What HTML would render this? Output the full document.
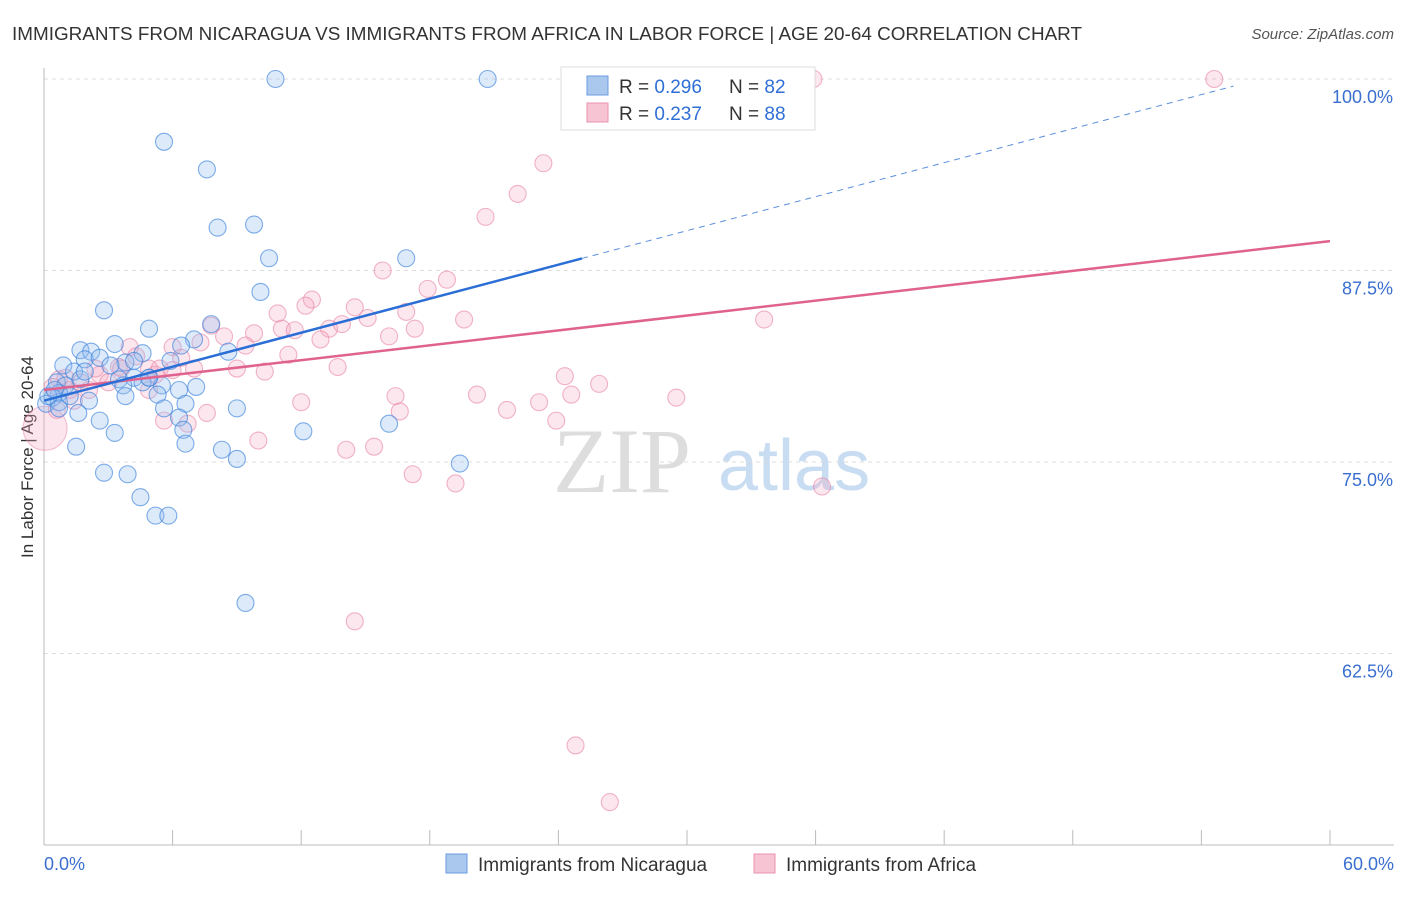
<!DOCTYPE html>
<html><head><meta charset="utf-8"><style>
body{margin:0;background:#fff;font-family:"Liberation Sans",sans-serif}
</style></head><body>
<svg id="chart" width="1406" height="892" xmlns="http://www.w3.org/2000/svg" font-family="Liberation Sans, sans-serif">
<text x="12" y="40" font-size="18" fill="#333" textLength="1070" lengthAdjust="spacingAndGlyphs">IMMIGRANTS FROM NICARAGUA VS IMMIGRANTS FROM AFRICA IN LABOR FORCE | AGE 20-64 CORRELATION CHART</text>
<text x="1394" y="39" font-size="15" fill="#555" font-style="italic" text-anchor="end">Source: ZipAtlas.com</text>
<text transform="translate(33,457) rotate(-90)" font-size="17" fill="#333" text-anchor="middle">In Labor Force | Age 20-64</text>
<g><text x="553" y="492" font-size="92" fill="#ddd" font-family="Liberation Serif, serif">ZIP</text><text x="718" y="490" font-size="72" fill="#c8dcf2">atlas</text></g>
<g id="grid"></g><g id="axes"></g><g id="pts"></g><g id="trend"></g>
<g>
<rect x="561" y="67" width="254" height="63" fill="#fff" stroke="#ddd"/>
<rect x="587" y="76" width="21" height="19" fill="#aac8ee" stroke="#6a9be0"/>
<rect x="587" y="103" width="21" height="19" fill="#f7c4d3" stroke="#e992ae"/>
<text x="619" y="93" font-size="19" fill="#333">R = <tspan fill="#2f6fd6">0.296</tspan></text>
<text x="729" y="93" font-size="19" fill="#333">N = <tspan fill="#2f6fd6">82</tspan></text>
<text x="619" y="120" font-size="19" fill="#333">R = <tspan fill="#2f6fd6">0.237</tspan></text>
<text x="729" y="120" font-size="19" fill="#333">N = <tspan fill="#2f6fd6">88</tspan></text>
</g>
<g>
<rect x="446" y="854" width="21" height="19" fill="#aac8ee" stroke="#6a9be0"/>
<text x="478" y="871" font-size="19" fill="#333">Immigrants from Nicaragua</text>
<rect x="754" y="854" width="21" height="19" fill="#f7c4d3" stroke="#e992ae"/>
<text x="786" y="871" font-size="19" fill="#333">Immigrants from Africa</text>
</g>
</svg>
<script>
const yTicks=[100,87.5,75,62.5];
const yTickLabels=["100.0%","87.5%","75.0%","62.5%"];
const xTicks=[0,6,12,18,24,30,36,42,48,54,60];
const xEndLabels=["0.0%","60.0%"];
const nicaragua=[[10.8,100],[20.7,100],[5.6,95.9],[7.6,94.1],[8.1,90.3],[9.8,90.5],[10.5,88.3],[16.9,88.3],[10.1,86.1],[2.8,84.9],[7.8,84.0],[4.9,83.7],[7.0,83.0],[6.4,82.6],[3.3,82.7],[1.7,82.3],[2.2,82.2],[8.6,82.2],[4.6,82.1],[0.9,81.3],[1.9,81.7],[2.6,81.8],[3.8,81.5],[4.2,81.6],[5.9,81.6],[1.4,80.9],[0.6,80.2],[1.0,80.0],[1.7,80.4],[3.5,80.4],[4.2,80.5],[4.9,80.5],[3.7,80.0],[5.5,80.0],[7.1,79.9],[6.3,79.7],[0.7,79.5],[0.4,79.2],[0.1,78.8],[0.7,78.9],[2.1,79.0],[3.8,79.3],[5.3,79.4],[6.6,78.8],[5.6,78.5],[9.0,78.5],[1.6,78.2],[0.7,78.5],[2.6,77.7],[6.3,77.9],[16.1,77.5],[12.1,77.0],[3.3,76.9],[6.5,77.1],[1.5,76.0],[6.6,76.2],[8.3,75.8],[9.0,75.2],[19.4,74.9],[2.8,74.3],[3.9,74.2],[4.5,72.7],[5.2,71.5],[5.8,71.5],[9.4,65.8],[0.2,79.3],[0.5,79.7],[1.2,79.3],[4.6,80.2],[4.9,80.5],[1.9,80.9],[3.1,81.3]];
const africa=[[54.6,100],[35.9,100],[23.3,94.5],[22.1,92.5],[20.6,91.0],[15.8,87.5],[18.8,86.9],[17.9,86.3],[12.5,85.6],[10.9,84.7],[12.2,85.2],[14.5,85.1],[15.1,84.4],[16.9,84.8],[19.6,84.3],[17.3,83.7],[11.1,83.7],[11.7,83.6],[13.3,83.7],[13.9,84.0],[33.6,84.3],[7.8,83.9],[8.4,83.2],[9.8,83.4],[16.1,83.2],[12.9,83.0],[9.4,82.6],[7.3,82.8],[6.0,82.5],[6.4,81.8],[4.0,82.5],[4.3,81.9],[6.0,81.0],[4.9,81.1],[3.5,81.2],[11.4,82.0],[9.0,81.1],[10.3,80.9],[7.0,81.1],[13.7,81.2],[24.3,80.6],[25.9,80.1],[24.6,79.4],[20.2,79.4],[16.4,79.3],[29.5,79.2],[12.0,78.9],[23.1,78.9],[21.6,78.4],[16.6,78.3],[7.6,78.2],[23.9,77.7],[6.7,77.5],[10.0,76.4],[14.1,75.8],[15.4,76.0],[17.2,74.2],[19.2,73.6],[36.3,73.4],[14.5,64.6],[24.8,56.5],[26.4,52.8],[0.7,80.4],[1.0,80.5],[1.2,79.7],[2.1,79.7],[0.6,78.4],[2.6,80.7],[3.0,80.2],[3.6,81.1],[5.2,80.7],[5.4,81.1],[0.4,79.9],[1.7,80.2],[2.4,81.1],[4.9,79.7],[5.6,77.7],[1.4,79.0]];
const africaBig=[[0.05,77.2]];
const blueTrend=[79.0,0.37];   // intercept, slope
const blueSolidEnd=25.1, blueDashEnd=55.5;
const pinkTrend=[79.7,0.162];
const NS="http://www.w3.org/2000/svg";
const X=v=>44+v*21.433, Y=v=>79+(100-v)*15.32;
function mk(t,a,p){const e=document.createElementNS(NS,t);for(const k in a)e.setAttribute(k,a[k]);p.appendChild(e);return e;}
const grid=document.getElementById('grid'),axes=document.getElementById('axes'),pts=document.getElementById('pts'),tr=document.getElementById('trend');
yTicks.forEach((v,i)=>{
 const l=mk('line',{x1:44,x2:1394,y1:Y(v),y2:Y(v),stroke:'#ddd','stroke-dasharray':'4,4'},grid);
 
 
 const t=mk('text',{x:1393,y:Y(v)+24,'font-size':18,fill:'#3a6fd0','text-anchor':'end'},axes);
 t.textContent=yTickLabels[i];
 
 
});
mk('line',{x1:44,x2:44,y1:68,y2:845,stroke:'#bbb'},axes);
mk('line',{x1:44,x2:1394,y1:845,y2:845,stroke:'#bbb'},axes);
xTicks.forEach(v=>{const l=mk('line',{x1:X(v),x2:X(v),y1:830,y2:845,stroke:'#bbb'},axes);
 
 });
[[0,'start',44],[60,'end',1394]].forEach((d,i)=>{const t=mk('text',{x:d[2],y:870,'font-size':18,fill:'#3a6fd0','text-anchor':d[1]},axes);t.textContent=xEndLabels[i];
 
 });
africaBig.forEach(p=>{const c=mk('circle',{cx:X(p[0]),cy:Y(p[1]),r:22,fill:'rgba(244,170,194,0.3)',stroke:'rgba(232,130,165,0.5)'},pts);
 
 });
africa.forEach(p=>{const c=mk('circle',{cx:X(p[0]),cy:Y(p[1]),r:8.5,fill:'rgba(244,170,194,0.28)',stroke:'rgba(232,130,165,0.6)','stroke-width':1.1},pts);
 
 });
nicaragua.forEach(p=>{const c=mk('circle',{cx:X(p[0]),cy:Y(p[1]),r:8.5,fill:'rgba(150,190,240,0.32)',stroke:'rgba(60,130,220,0.65)','stroke-width':1.1},pts);
 
 });
const by=v=>blueTrend[0]+blueTrend[1]*v, py=v=>pinkTrend[0]+pinkTrend[1]*v;
let l=mk('line',{x1:X(0),y1:Y(py(0)),x2:X(60),y2:Y(py(60)),stroke:'#e0628e','stroke-width':2.5},tr);


l=mk('line',{x1:X(blueSolidEnd),y1:Y(by(blueSolidEnd)),x2:X(blueDashEnd),y2:Y(by(blueDashEnd)),stroke:'#5b8fdc','stroke-width':1,'stroke-dasharray':'6,5'},tr);


l=mk('line',{x1:X(0),y1:Y(by(0)),x2:X(blueSolidEnd),y2:Y(by(blueSolidEnd)),stroke:'#2b6fd6','stroke-width':2.5},tr);


</script>
</body></html>
